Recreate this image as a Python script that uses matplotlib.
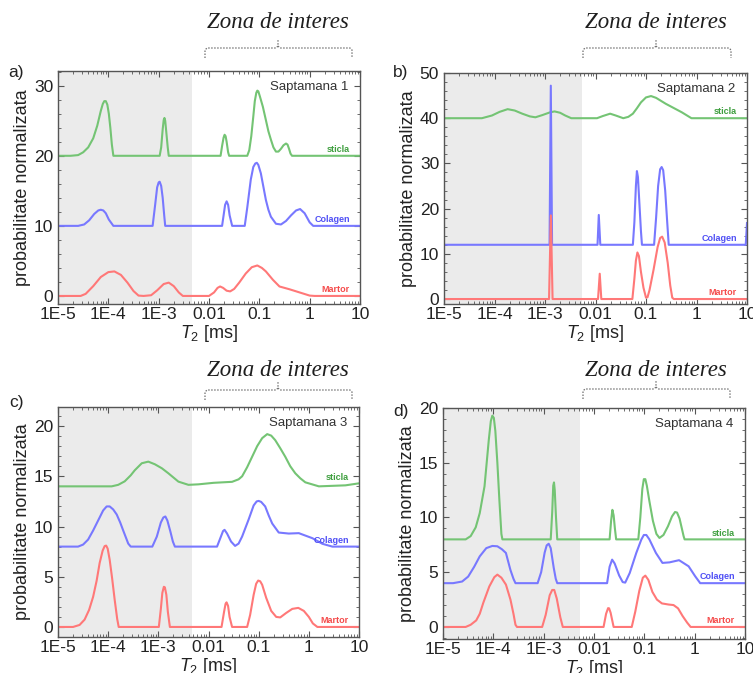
import matplotlib.pyplot as plt
import numpy as np
from matplotlib.lines import Line2D
from matplotlib.ticker import AutoMinorLocator, LogLocator, NullFormatter

plt.rcParams['font.family'] = ['Liberation Sans', 'DejaVu Sans']
plt.rcParams['mathtext.fontset'] = 'custom'
plt.rcParams['mathtext.rm'] = 'Liberation Sans'
plt.rcParams['mathtext.it'] = 'Liberation Sans:italic'

W, H = 753, 673

# x tick positions / labels
decades = [1e-5, 1e-4, 1e-3, 1e-2, 1e-1, 1, 10]
decade_labels = ['1E-5', '1E-4', '1E-3', '0.01', '0.1', '1', '10']
series_names = ['sticla', 'Colagen', 'Martor']
weeks = ['Saptamana 1', 'Saptamana 2', 'Saptamana 3', 'Saptamana 4']
panel_letters = ['a)', 'b)', 'c)', 'd)']

# each curve: (log10 T2 [ms], probabilitate normalizata)
a_sticla = [(-5, 20), (-4.75, 20), (-4.6, 20.1), (-4.5, 20.5), (-4.4, 21.2), (-4.3, 22.5),
            (-4.22, 24.3), (-4.15, 26.4), (-4.11, 27.4), (-4.08, 27.8), (-4.05, 27.8),
            (-4.02, 27.3), (-3.99, 26.0), (-3.96, 24.0), (-3.93, 21.6), (-3.9, 20),
            (-2.98, 20), (-2.95, 21.2), (-2.92, 23.8), (-2.9, 25.1), (-2.885, 25.4),
            (-2.87, 25.0), (-2.85, 23.5), (-2.82, 21.2), (-2.8, 20),
            (-1.77, 20), (-1.74, 21.4), (-1.71, 22.6), (-1.69, 23), (-1.67, 22.8),
            (-1.65, 22), (-1.62, 20.5), (-1.6, 20), (-1.24, 20), (-1.2, 20.8), (-1.16, 22.8),
            (-1.12, 25.6), (-1.09, 27.8), (-1.06, 29.0), (-1.04, 29.3), (-1.02, 29.2),
            (-0.99, 28.5), (-0.93, 27), (-0.87, 25.1), (-0.82, 23.5), (-0.77, 22.3),
            (-0.72, 21.2), (-0.67, 20.6), (-0.62, 20.6), (-0.57, 21.0), (-0.52, 21.5),
            (-0.47, 21.75), (-0.44, 21.6), (-0.41, 21.0), (-0.38, 20.3), (-0.35, 20), (1, 20)]
a_colagen = [(-5, 10), (-4.6, 10), (-4.48, 10.2), (-4.38, 10.8), (-4.28, 11.7), (-4.2, 12.2),
             (-4.15, 12.3), (-4.1, 12.2), (-4.05, 11.8), (-3.99, 10.9), (-3.9, 10), (-3.12, 10),
             (-3.07, 13), (-3.03, 15.5), (-3.0, 16.2), (-2.98, 16.3), (-2.95, 15.7),
             (-2.92, 14.0), (-2.89, 11.5), (-2.87, 10), (-1.74, 10), (-1.71, 11.5),
             (-1.68, 13.0), (-1.65, 13.5), (-1.62, 13.0), (-1.59, 11.5), (-1.54, 10),
             (-1.29, 10), (-1.24, 12.6), (-1.17, 16.6), (-1.12, 18.4), (-1.08, 18.9),
             (-1.05, 19), (-1.02, 18.7), (-0.97, 17.5), (-0.92, 15.6), (-0.87, 13.7),
             (-0.82, 12.3), (-0.77, 11.3), (-0.67, 10.3), (-0.57, 10.2), (-0.47, 10.7),
             (-0.37, 11.5), (-0.27, 12.2), (-0.19, 12.4), (-0.1, 11.8), (0.0, 10.5),
             (0.07, 10), (1, 10)]
a_martor = [(-5, 0), (-4.55, 0), (-4.45, 0.3), (-4.3, 1.4), (-4.15, 2.7), (-4.0, 3.4),
            (-3.88, 3.5), (-3.75, 3.0), (-3.62, 1.9), (-3.5, 0.7), (-3.4, 0.05), (-3.3, 0),
            (-3.15, 0.1), (-3.03, 0.8), (-2.9, 1.7), (-2.8, 1.9), (-2.7, 1.4), (-2.6, 0.5),
            (-2.52, 0), (-2.0, 0), (-1.9, 0.5), (-1.83, 1.15), (-1.78, 1.35), (-1.72, 1.15),
            (-1.65, 0.75), (-1.58, 0.65), (-1.5, 1.0), (-1.4, 1.9), (-1.27, 3.2),
            (-1.15, 4.1), (-1.04, 4.35), (-0.95, 4.0), (-0.87, 3.5), (-0.73, 2.3),
            (-0.6, 1.35), (-0.4, 0.95), (-0.2, 0.5), (0.0, 0.05), (0.1, 0), (1, 0)]

b_sticla = [(-5, 40), (-4.25, 40), (-4.05, 40.6), (-3.9, 41.4), (-3.74, 42.0), (-3.6, 41.7),
            (-3.45, 41.0), (-3.3, 40.4), (-3.19, 40.2), (-3.05, 40.7), (-2.9, 41.3),
            (-2.81, 41.5), (-2.7, 41.2), (-2.6, 40.6), (-2.48, 40), (-1.97, 40),
            (-1.85, 40.5), (-1.71, 41.0), (-1.6, 40.6), (-1.45, 40), (-1.35, 40.3),
            (-1.26, 41.0), (-1.18, 42.2), (-1.1, 43.5), (-1.0, 44.6), (-0.9, 44.9),
            (-0.8, 44.5), (-0.61, 43.2), (-0.29, 41.3), (-0.1, 40), (1, 40)]
b_colagen = [(-5, 12), (-2.91, 12), (-2.885, 47.2), (-2.86, 12), (-1.96, 12), (-1.935, 18.6),
             (-1.905, 12), (-1.26, 12), (-1.23, 17), (-1.2, 25), (-1.18, 28.3), (-1.16, 27),
             (-1.13, 21), (-1.1, 15), (-1.08, 12), (-0.84, 12), (-0.8, 18), (-0.76, 25),
             (-0.72, 28.7), (-0.69, 29.2), (-0.66, 28.5), (-0.62, 24), (-0.58, 17),
             (-0.55, 12), (0.975, 12), (1, 16.8)]
b_martor = [(-5, 0), (-2.92, 0), (-2.884, 18.5), (-2.85, 0), (-1.95, 0), (-1.916, 5.6),
            (-1.885, 0), (-1.27, 0), (-1.23, 4.5), (-1.2, 8.5), (-1.17, 10.3), (-1.14, 9.5),
            (-1.1, 6), (-1.05, 2.5), (-1.0, 0.3), (-0.97, 0.4), (-0.93, 2), (-0.85, 6.5),
            (-0.77, 11.5), (-0.72, 13.5), (-0.68, 13.8), (-0.63, 12.5), (-0.57, 8),
            (-0.52, 3), (-0.48, 0.3), (-0.45, 0), (1, 0)]

c_sticla = [(-5, 14), (-3.93, 14.0), (-3.8, 14.15), (-3.67, 14.5), (-3.55, 15.1), (-3.47, 15.6),
            (-3.33, 16.3), (-3.2, 16.46), (-3.07, 16.2), (-2.93, 15.8), (-2.8, 15.3),
            (-2.6, 14.47), (-2.4, 14.15), (-2.2, 14.2), (-1.9, 14.35), (-1.53, 14.45),
            (-1.4, 14.7), (-1.33, 15.0), (-1.23, 15.9), (-1.13, 16.95), (-1.03, 18.0),
            (-0.93, 18.8), (-0.83, 19.2), (-0.75, 19.05), (-0.67, 18.6), (-0.57, 17.8),
            (-0.47, 16.95), (-0.37, 16.0), (-0.27, 15.3), (-0.17, 14.8), (-0.07, 14.4),
            (0.2, 14.0), (0.73, 14.1), (1, 14.3)]
c_colagen = [(-5, 8), (-4.6, 8), (-4.5, 8.2), (-4.4, 8.7), (-4.3, 9.6), (-4.2, 10.6),
             (-4.1, 11.6), (-4.03, 12.0), (-3.97, 12.0), (-3.9, 11.7), (-3.83, 11.2),
             (-3.76, 10.4), (-3.7, 9.6), (-3.6, 8.3), (-3.55, 8), (-3.12, 8), (-3.03, 9.0),
             (-2.95, 10.4), (-2.9, 10.9), (-2.86, 11.0), (-2.82, 10.6), (-2.76, 9.5),
             (-2.71, 8.5), (-2.67, 8), (-1.83, 8), (-1.76, 8.9), (-1.71, 9.55), (-1.68, 9.67),
             (-1.63, 9.3), (-1.55, 8.5), (-1.47, 8.07), (-1.4, 8.3), (-1.33, 9.0),
             (-1.2, 10.7), (-1.1, 12.1), (-1.04, 12.5), (-1.0, 12.55), (-0.95, 12.45),
             (-0.87, 12.0), (-0.8, 11.1), (-0.73, 10.3), (-0.6, 9.4), (-0.4, 9.3),
             (-0.2, 9.34), (0.07, 8.84), (0.27, 8.28), (0.47, 8), (1, 8)]
c_martor = [(-5, 0), (-4.7, 0), (-4.57, 0.2), (-4.47, 0.73), (-4.38, 1.7), (-4.3, 3.0),
            (-4.23, 4.6), (-4.17, 6.36), (-4.11, 7.6), (-4.07, 8.05), (-4.04, 8.1),
            (-4.01, 7.8), (-3.97, 6.7), (-3.92, 4.8), (-3.87, 2.7), (-3.82, 0.8), (-3.79, 0),
            (-2.99, 0), (-2.95, 1.8), (-2.92, 3.4), (-2.89, 4.0), (-2.87, 3.95), (-2.84, 3.2),
            (-2.81, 1.5), (-2.77, 0), (-1.74, 0), (-1.69, 1.5), (-1.66, 2.3), (-1.64, 2.45),
            (-1.61, 2.1), (-1.58, 1.0), (-1.53, 0), (-1.23, 0),
            (-1.17, 1.2), (-1.1, 3.2), (-1.05, 4.3), (-1.01, 4.62), (-0.97, 4.55),
            (-0.93, 4.2), (-0.85, 2.9), (-0.75, 1.6), (-0.65, 1.0), (-0.57, 0.95),
            (-0.45, 1.4), (-0.33, 1.8), (-0.21, 1.9), (-0.1, 1.6), (0.0, 1.0), (0.08, 0.35),
            (0.17, 0), (1, 0)]

d_sticla = [(-5, 8), (-4.55, 8), (-4.45, 8.3), (-4.35, 9.1), (-4.27, 10.4), (-4.175, 12.85),
            (-4.09, 17.1), (-4.05, 18.8), (-4.02, 19.3), (-3.99, 19.1), (-3.96, 17.9),
            (-3.92, 15.0), (-3.88, 11.6), (-3.84, 8.5), (-3.82, 8), (-2.86, 8), (-2.83, 10.5),
            (-2.81, 12.9), (-2.795, 13.2), (-2.78, 12.5), (-2.755, 10), (-2.73, 8),
            (-1.69, 8), (-1.66, 9.7), (-1.635, 10.7), (-1.61, 10.2), (-1.585, 9),
            (-1.56, 8), (-1.12, 8), (-1.08, 10), (-1.04, 12.6), (-1.01, 13.5), (-0.98, 13.5),
            (-0.95, 12.9), (-0.9, 11.5), (-0.83, 9.7), (-0.76, 8.5), (-0.7, 8.13), (-0.62, 8.4),
            (-0.53, 9.2), (-0.45, 10.1), (-0.39, 10.5), (-0.35, 10.45), (-0.3, 9.9),
            (-0.25, 8.9), (-0.22, 8.3), (-0.2, 8), (1, 8)]
d_colagen = [(-5, 4), (-4.8, 4), (-4.62, 4.15), (-4.5, 4.6), (-4.38, 5.5), (-4.27, 6.45),
             (-4.14, 7.2), (-4.02, 7.4), (-3.92, 7.37), (-3.83, 7.1), (-3.75, 6.76),
             (-3.66, 5.2), (-3.6, 4.4), (-3.56, 4), (-3.12, 4), (-3.05, 5.0), (-2.98, 6.8),
             (-2.94, 7.45), (-2.9, 7.6), (-2.86, 7.2), (-2.8, 5.4), (-2.76, 4.4), (-2.73, 4),
             (-1.74, 4), (-1.69, 5.5), (-1.64, 6.15), (-1.59, 5.8), (-1.5, 4.7), (-1.43, 4.1),
             (-1.38, 4.05), (-1.29, 4.93), (-1.16, 6.76), (-1.06, 7.98), (-1.01, 8.4),
             (-0.96, 8.4), (-0.9, 8.0), (-0.77, 6.76), (-0.64, 5.85), (-0.5, 5.9),
             (-0.31, 6.1), (-0.12, 5.54), (0.01, 4.63), (0.11, 4), (1, 4)]
d_martor = [(-5, 0), (-4.55, 0), (-4.45, 0.2), (-4.34, 0.6), (-4.27, 1.2), (-4.2, 2.2),
            (-4.08, 3.7), (-3.98, 4.55), (-3.92, 4.78), (-3.84, 4.5), (-3.75, 3.87),
            (-3.66, 2.5), (-3.6, 1.2), (-3.56, 0.2), (-3.53, 0), (-3.03, 0), (-2.96, 1.1),
            (-2.88, 2.9), (-2.83, 3.38), (-2.79, 3.38), (-2.74, 2.6), (-2.67, 0.9),
            (-2.62, 0), (-1.81, 0), (-1.76, 1.2), (-1.72, 1.72), (-1.7, 1.7), (-1.67, 1.3),
            (-1.61, 0), (-1.25, 0), (-1.18, 1.4), (-1.1, 3.3), (-1.03, 4.5), (-0.98, 4.69),
            (-0.92, 4.3), (-0.84, 3.2), (-0.75, 2.5), (-0.65, 2.15), (-0.52, 2.05),
            (-0.42, 2.0), (-0.33, 1.7), (-0.24, 1.0), (-0.15, 0.4), (-0.08, 0), (1, 0)]

curves = [(a_sticla, a_colagen, a_martor), (b_sticla, b_colagen, b_martor),
          (c_sticla, c_colagen, c_martor), (d_sticla, d_colagen, d_martor)]

line_colors = ['#74c474', '#7878ff', '#ff7878']
text_colors = ['#3f9f3f', '#4f4ff5', '#f54b4b']

# layout in figure pixels (left, top, right, bottom)
boxes = [(58, 71, 360, 304), (444, 73, 747, 304), (58, 407, 359, 637), (443, 408, 745, 639)]
ylims = [(-1.15, 32.1), (-1.1, 50), (-1.0, 21.9), (-1.1, 20)]
ysteps = [10, 10, 5, 5]
shade_hi = [4.6e-3, 5.5e-3, 4.6e-3, 5.3e-3]
letter_pos = [(8, 73), (393, 73), (9, 402), (393, 411)]
# brace: x0, xm, x1, y of the horizontal, y of the title
braces = [(205, 278, 352, 48, 23), (583, 656, 731, 48, 23),
          (205, 278, 352, 390, 370), (583, 656, 730, 389, 371)]


def fx(x):
    return x / W


def fy(y):
    return 1 - y / H


fig = plt.figure(figsize=(W / 100, H / 100), dpi=100)

for i in range(4):
    l, t, r, b = boxes[i]
    ax = fig.add_axes([fx(l), fy(b), (r - l) / W, (b - t) / H])
    ax.set_xscale('log')
    ax.set_xlim(1e-5, 10)
    ax.set_ylim(*ylims[i])
    ax.axvspan(1e-5, shade_hi[i], color='#ebebeb', lw=0, zorder=0)

    for curve, lc, tc, name in zip(curves[i], line_colors, text_colors, series_names):
        pts = np.array(curve)
        ax.plot(10 ** pts[:, 0], pts[:, 1], color=lc, lw=1.5, zorder=2)
        base = pts[-2, 1] if (name == 'Colagen' and i == 1) else pts[-1, 1]
        ax.annotate(name, xy=(6.3, base), xytext=(0, 4.5), textcoords='offset points',
                    ha='right', va='center', fontsize=6.5, color=tc, fontweight='bold')

    ax.text(0.96, 0.93, weeks[i], transform=ax.transAxes, ha='right', va='center',
            fontsize=9.5, color='#333333')

    ax.set_xticks(decades)
    ax.set_xticklabels(decade_labels)
    ax.xaxis.set_minor_locator(LogLocator(base=10, subs=np.arange(2, 10), numticks=20))
    ax.xaxis.set_minor_formatter(NullFormatter())
    ax.set_yticks(np.arange(0, ylims[i][1] + 0.01, ysteps[i]))
    ax.yaxis.set_minor_locator(AutoMinorLocator(5))
    ax.tick_params(which='both', direction='in', top=True, right=True, color='#555555',
                   labelcolor='#222222', labelsize=12.5)
    ax.tick_params(which='major', length=4, width=0.8)
    ax.tick_params(which='minor', length=2, width=0.6)
    ax.tick_params(axis='x', which='both', pad=2)
    for sp in ax.spines.values():
        sp.set_color('#555555')
        sp.set_linewidth(1.0)

    ax.set_xlabel('$T_2$ [ms]', fontsize=13, labelpad=1, color='#222222')
    ax.set_ylabel('probabilitate normalizata', fontsize=13, labelpad=2, color='#222222')

    lx, ly = letter_pos[i]
    fig.text(fx(lx), fy(ly), panel_letters[i], ha='left', va='center', fontsize=12.5,
             color='#222222')

    x0, xm, x1, yb, yt = braces[i]
    left = [(x0, yb + 10), (x0, yb + 2), (x0 + 2, yb), (xm - 2, yb), (xm, yb - 2), (xm, yb - 8)]
    right = [(xm, yb - 2), (xm + 2, yb), (x1 - 2, yb), (x1, yb + 2), (x1, yb + 10)]
    for seg in (left, right):
        fig.add_artist(Line2D([fx(p[0]) for p in seg], [fy(p[1]) for p in seg],
                              transform=fig.transFigure, ls=(0, (1.2, 1.2)), lw=0.9,
                              color='#707070'))
    fig.text(fx(xm), fy(yt), 'Zona de interes', ha='center', va='center', fontsize=16.5,
             family='Liberation Serif', style='italic', color='#1e1e1e')

fig.savefig('out.png', dpi=100)
